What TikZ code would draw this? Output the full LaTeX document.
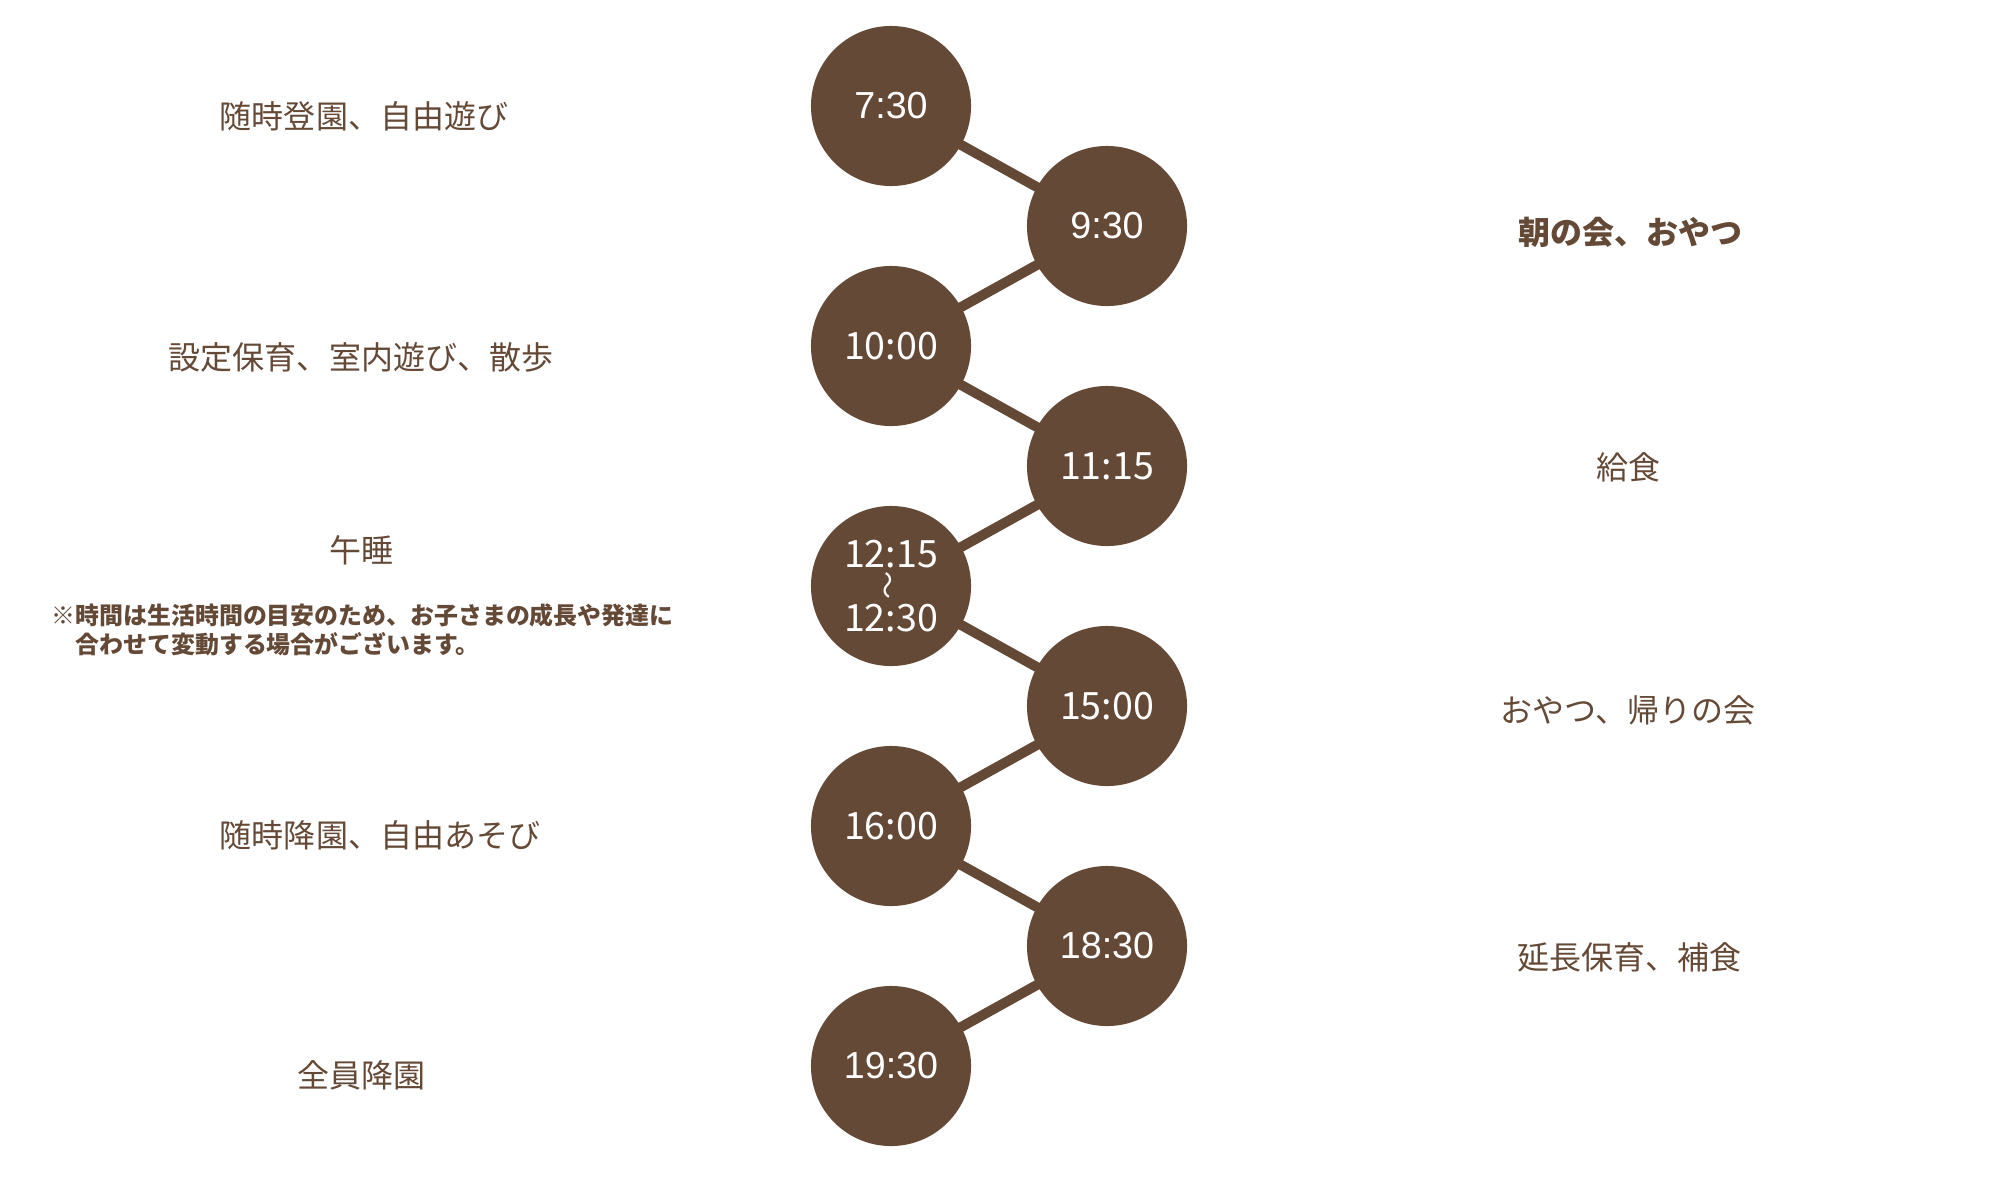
\documentclass[tikz,border=0pt]{standalone}
\usepackage{fontspec}
\setmainfont{Noto Sans CJK JP}
\newfontfamily\latinfont{Liberation Sans}
\usepackage{tikz}
\usetikzlibrary{positioning, backgrounds}
\definecolor{cocoa}{RGB}{101,73,55}

\begin{document}
\begin{tikzpicture}[
        x=0.01cm, y=-0.01cm,
        timecircle/.style={circle, fill=cocoa, text=white, minimum size=1.6cm, inner sep=0pt, align=center, font=\fontsize{10.7}{12}\selectfont},
        latintime/.style={timecircle, font=\latinfont\fontsize{10.7}{12}\selectfont},
        activity/.style={text=cocoa, inner sep=0pt, font=\fontsize{9.1}{11}\selectfont},
        remark/.style={text=cocoa, inner sep=0pt, align=left, font=\bfseries\fontsize{6.8}{8.3}\selectfont},
        link/.style={draw=cocoa, line width=0.1cm}
    ]
    \useasboundingbox (0,0) rectangle (2000,1200);

    % Time circles - left column
    \node[latintime] (t0730) at (891,106) {7:30};
    \node[timecircle] (t1000) at (891,346) {10:00};
    \node[timecircle, font=\fontsize{10.7}{9}\selectfont] (t1215) at (891,586) {12:15\\\rotatebox{90}{\fontsize{8}{8}\selectfont 〜}\\12:30};
    \node[timecircle] (t1600) at (891,826) {16:00};
    \node[latintime] (t1930) at (891,1066) {19:30};

    % Time circles - right column
    \node[latintime] (t0930) at (1107,226) {9:30};
    \node[timecircle] (t1115) at (1107,466) {11:15};
    \node[timecircle] (t1500) at (1107,706) {15:00};
    \node[latintime] (t1830) at (1107,946) {18:30};

    % Links behind the circles
    \begin{scope}[on background layer]
        \draw[link] (t0730.center) -- (t0930.center) -- (t1000.center) -- (t1115.center) -- (t1215.center)
            -- (t1500.center) -- (t1600.center) -- (t1830.center) -- (t1930.center);
    \end{scope}

    % Left activities
    \node[activity] (arrive) at (364,116) {随時登園、自由遊び};
    \node[activity] (play) at (361,357) {設定保育、室内遊び、散歩};
    \node[activity] (nap) at (361,550) {午睡};
    \node[remark, anchor=west] (note) at (51,630) {※時間は生活時間の目安のため、お子さまの成長や発達に\\\hspace{1em}合わせて変動する場合がございます。};
    \node[activity] (leave) at (380,835) {随時降園、自由あそび};
    \node[activity] (allgone) at (361,1075) {全員降園};

    % Right activities
    \node[activity, font=\bfseries\fontsize{9.1}{11}\selectfont] (morning) at (1630,232) {朝の会、おやつ};
    \node[activity] (lunch) at (1628,467) {給食};
    \node[activity] (snack) at (1628,710) {おやつ、帰りの会};
    \node[activity] (extended) at (1629,957) {延長保育、補食};

\end{tikzpicture}
\end{document}
